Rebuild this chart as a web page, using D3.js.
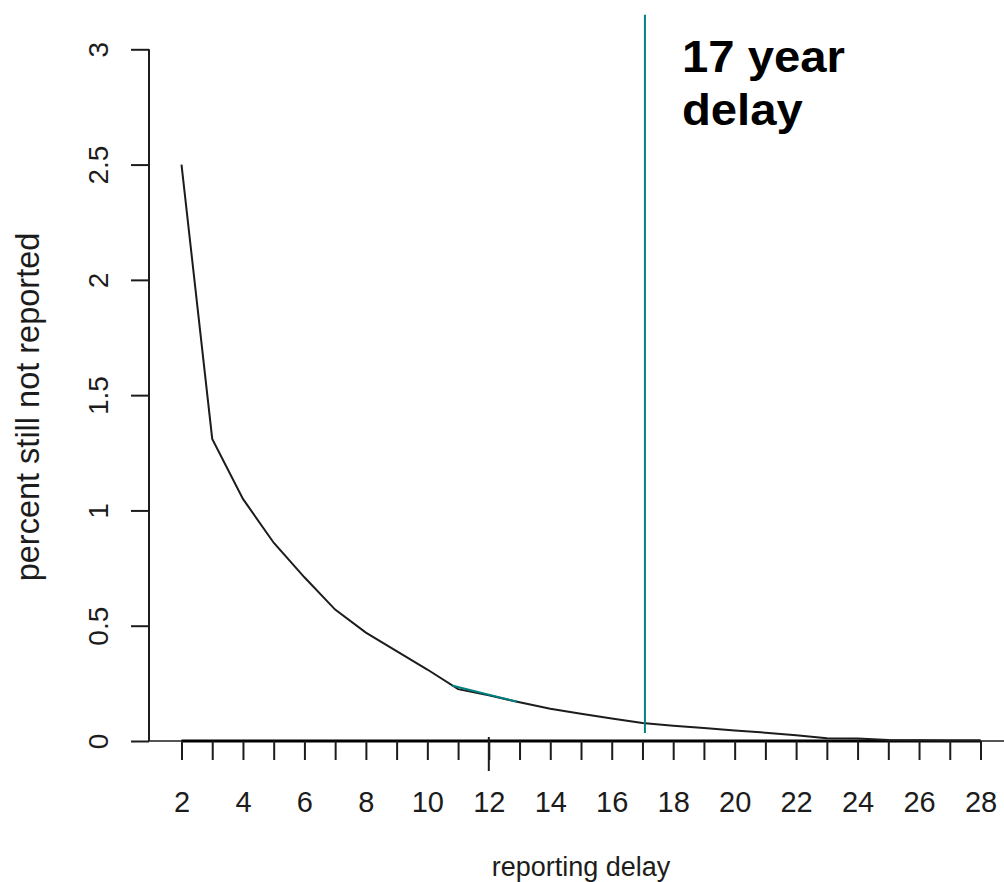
<!DOCTYPE html>
<html>
<head>
<meta charset="utf-8">
<script src="https://cdn.jsdelivr.net/npm/d3@7"></script>
<style>
  html, body { margin: 0; padding: 0; background: #fff; }
  svg { display: block; }
  text { font-family: "Liberation Sans", Arial, sans-serif; }
</style>
</head>
<body>
<svg id="chart" width="1004" height="882"></svg>
<script>
// ---- data ----
const delays = [2,3,4,5,6,7,8,9,10,11,12,13,14,15,16,17,18,19,20,21,22,23,24,25,26,27,28];
const percentNotReported = [2.50,1.31,1.05,0.86,0.71,0.57,0.47,0.39,0.31,0.225,0.198,0.168,0.14,0.118,0.098,0.078,0.066,0.056,0.046,0.036,0.025,0.012,0.011,0.004,0.003,0.002,0.002];
const highlightX = [10.8, 12.92];
const highlightY = [0.241, 0.170];
const markerDelay = 17.08;
const markerRange = [0.035, 3.15];
const xTicks = d3.range(2, 29, 1);
const xTickLabels = [2,4,6,8,10,12,14,16,18,20,22,24,26,28];
const yTicks = [0, 0.5, 1, 1.5, 2, 2.5, 3];
const yTickLabels = ["0", "0.5", "1", "1.5", "2", "2.5", "3"];
const annotationLines = ["17 year", "delay"];
const xTitle = "reporting delay";
const yTitle = "percent still not reported";

// ---- layout ----
const W = 1004, H = 882;
const svg = d3.select("#chart");
const x = d3.scaleLinear().domain([2, 28]).range([181.5, 980.5]);
const y = d3.scaleLinear().domain([0, 3]).range([741, 49.3]);
const yAxisX = 149;
const teal = "#008080";
const ink = "#1c1c1c";

// horizontal zero line across plot
svg.append("line")
  .attr("x1", yAxisX).attr("x2", W)
  .attr("y1", y(0)).attr("y2", y(0))
  .attr("stroke", ink).attr("stroke-width", 1.3);

// y axis
const yAxis = d3.axisLeft(y).tickValues(yTicks).tickSize(18).tickPadding(0)
  .tickFormat((d, i) => yTickLabels[i]);
const gy = svg.append("g").attr("transform", `translate(${yAxisX},0)`).call(yAxis);
gy.select(".domain").attr("d", `M0,${y(0)}V${y(3)}`).attr("stroke", ink).attr("stroke-width", 2);
gy.selectAll(".tick line").attr("stroke", ink).attr("stroke-width", 2);
gy.selectAll(".tick text")
  .attr("x", 0).attr("dy", null).attr("y", 0)
  .attr("transform", "translate(-51,0) rotate(-90)")
  .attr("text-anchor", "middle")
  .attr("dominant-baseline", "central")
  .attr("font-size", 28)
  .attr("fill", ink);

// x axis
const xAxis = d3.axisBottom(x).tickValues(xTicks).tickSize(19).tickPadding(0)
  .tickFormat(d => xTickLabels.includes(d) ? String(d) : "");
const gx = svg.append("g").attr("transform", `translate(0,${y(0)})`).call(xAxis);
gx.select(".domain").attr("d", `M${x(2)},0H${x(28)}`).attr("stroke", "#000").attr("stroke-width", 3);
gx.selectAll(".tick line").attr("stroke", ink).attr("stroke-width", 2);
gx.selectAll(".tick text")
  .attr("y", 71).attr("dy", null)
  .attr("font-size", 29)
  .attr("fill", ink);
// longer tick at 12
gx.append("line")
  .attr("x1", x(12)).attr("x2", x(12))
  .attr("y1", -4).attr("y2", 30)
  .attr("stroke", ink).attr("stroke-width", 2);

// curve
const data = delays.map((d, i) => ({ x: d, y: percentNotReported[i] }));
const line = d3.line().x(d => x(d.x)).y(d => y(d.y));
svg.append("path").datum(data)
  .attr("d", line)
  .attr("fill", "none")
  .attr("stroke", ink)
  .attr("stroke-width", 2);

// teal highlight segment
const hl = highlightX.map((d, i) => ({ x: d, y: highlightY[i] }));
svg.append("path").datum(hl)
  .attr("d", line)
  .attr("fill", "none")
  .attr("stroke", teal)
  .attr("stroke-width", 2);

// vertical marker
svg.append("line")
  .attr("x1", x(markerDelay)).attr("x2", x(markerDelay))
  .attr("y1", y(markerRange[0])).attr("y2", y(markerRange[1]))
  .attr("stroke", teal).attr("stroke-width", 2);

// annotation
const ann = svg.append("text")
  .attr("transform", "translate(682,72) scale(1.05,1)")
  .attr("font-size", 45).attr("font-weight", "bold").attr("fill", "#000");
ann.selectAll("tspan").data(annotationLines).join("tspan")
  .attr("x", 0).attr("dy", (d, i) => i === 0 ? 0 : 53)
  .text(d => d);

// axis titles
svg.append("text")
  .attr("x", x(15)).attr("y", 876)
  .attr("text-anchor", "middle")
  .attr("font-size", 27).attr("fill", ink)
  .text(xTitle);

svg.append("text")
  .attr("transform", `translate(39,${407}) rotate(-90)`)
  .attr("text-anchor", "middle")
  .attr("font-size", 32.5).attr("fill", ink)
  .text(yTitle);
</script>
</body>
</html>
